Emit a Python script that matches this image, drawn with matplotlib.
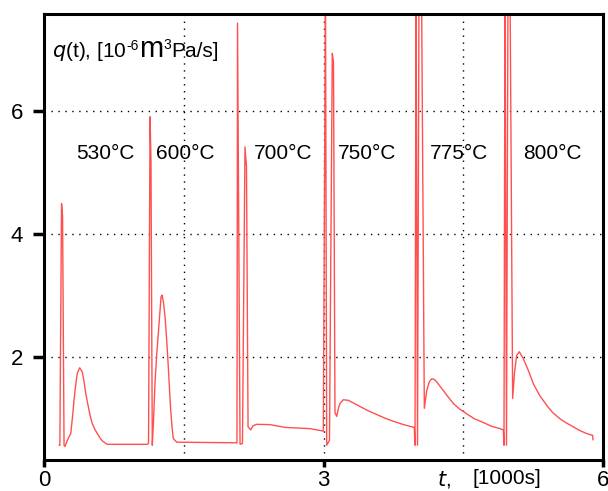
import matplotlib
matplotlib.use("Agg")
import matplotlib.pyplot as plt
from matplotlib.ticker import FixedLocator

plt.rcParams['font.family'] = ['Liberation Sans', 'DejaVu Sans']

# flow q(t), t in 1000 s, q in 1e-6 m3 Pa/s
t = [0.164, 0.170, 0.188, 0.199, 0.215, 0.225, 0.250, 0.287, 0.305, 0.322,
     0.340, 0.357, 0.383, 0.411, 0.430, 0.448, 0.466, 0.483, 0.500, 0.518,
     0.545, 0.572, 0.600, 0.626, 0.679, 1.109,
     1.122, 1.138, 1.148, 1.162, 1.175, 1.191, 1.210, 1.227, 1.256, 1.266,
     1.282, 1.299, 1.318, 1.334, 1.348, 1.360, 1.375, 1.388, 1.424, 2.071,
     2.077, 2.104, 2.130, 2.157, 2.173, 2.190, 2.218, 2.246, 2.283, 2.426,
     2.587, 2.855, 2.998,
     3.021, 3.034, 3.064, 3.094, 3.107, 3.123, 3.142, 3.160, 3.177, 3.212,
     3.266, 3.330, 3.392, 3.480, 3.571, 3.660, 3.749, 3.850, 3.947, 3.974,
     3.982, 3.993, 4.009, 4.025, 4.052, 4.082, 4.108, 4.135, 4.161, 4.190,
     4.215, 4.250, 4.286, 4.340, 4.393, 4.460, 4.537, 4.620, 4.715, 4.800,
     4.894, 4.930,
     4.937, 4.948, 4.964, 4.980, 5.002, 5.030, 5.050, 5.073, 5.101, 5.144,
     5.200, 5.252, 5.320, 5.395, 5.460, 5.538, 5.610, 5.681, 5.750, 5.825,
     5.889, 5.892]
q = [0.57, 0.57, 4.50, 4.30, 0.57, 0.55, 0.65, 0.76, 1.02, 1.30,
     1.55, 1.74, 1.83, 1.76, 1.60, 1.41, 1.27, 1.14, 1.02, 0.92,
     0.83, 0.76, 0.69, 0.64, 0.585, 0.585,
     0.60, 5.91, 5.20, 0.57, 0.95, 1.58, 2.05, 2.39, 2.98, 3.01,
     2.90, 2.66, 2.25, 1.84, 1.45, 1.14, 0.85, 0.68, 0.62, 0.61,
     7.43, 0.585, 0.60, 5.42, 5.10, 0.87, 0.82, 0.89, 0.91, 0.905,
     0.86, 0.84, 0.80,
     8.0, 0.57, 0.65, 6.94, 6.80, 1.10, 1.04, 1.17, 1.25, 1.31,
     1.30, 1.25, 1.20, 1.13, 1.07, 1.01, 0.96, 0.91, 0.87, 0.86,
     0.57, 8.0, 0.57, 8.0, 8.0, 1.17, 1.46, 1.60, 1.65, 1.64,
     1.60, 1.53, 1.46, 1.35, 1.25, 1.16, 1.08, 1.00, 0.94, 0.88,
     0.84, 0.82,
     0.57, 8.0, 0.57, 8.0, 8.0, 1.33, 1.75, 2.03, 2.09, 1.98,
     1.78, 1.57, 1.38, 1.22, 1.10, 1.00, 0.93, 0.87, 0.81, 0.76,
     0.73, 0.66]

temps = ['530°C', '600°C', '700°C', '750°C', '775°C', '800°C']
temp_x = [0.655, 1.513, 2.565, 3.467, 4.454, 5.452]
temp_y = 5.32

fig = plt.figure(figsize=(6.08, 4.91), dpi=100)
ax = fig.add_axes([0.0724, 0.0631, 0.9194, 0.9084])

ax.plot(t, q, color='#ff5050', lw=1.0)

ax.set_xlim(0, 6)
ax.set_ylim(0.33, 7.58)

ax.xaxis.set_major_locator(FixedLocator([0, 3, 6]))
ax.xaxis.set_minor_locator(FixedLocator([1.5, 4.5]))
ax.yaxis.set_major_locator(FixedLocator([2, 4, 6]))

grid_kw = dict(color='black', linestyle=(0, (1, 4)), linewidth=1.0)
ax.grid(True, which='major', **grid_kw)
ax.xaxis.grid(True, which='minor', **grid_kw)
ax.tick_params(axis='x', which='minor', length=0)

for s in ax.spines.values():
    s.set_linewidth(2.2)

ax.tick_params(axis='y', which='major', direction='out', length=8, width=2.5,
               labelsize=16, pad=7)
ax.tick_params(axis='x', which='major', direction='out', length=5, width=2.5,
               labelsize=16, pad=2)

for lab, x in zip(temps, temp_x):
    ax.text(x, temp_y, lab, fontsize=15, ha='center', va='center')

# y label built from pieces so the "m" can be bigger, like the original
parts = [(r'$q$(t), [10', 15, 0), (r'-6', 10, 7), ('m', 21, 0),
         ('3', 10, 8), ('Pa/s]', 15, 0)]
fig.canvas.draw()
r = fig.canvas.get_renderer()
x0 = 52
base = 491 - 57
for s, fs, dy in parts:
    tx = fig.text(x0 / 608, (base + dy) / 491, s, fontsize=fs,
                  ha='left', va='baseline')
    x0 = tx.get_window_extent(r).x1

fig.text(437 / 608, 1 - 479 / 491, r'$t$,', fontsize=15, ha='left', va='center')
fig.text(472 / 608, 1 - 479 / 491, '[1000s]', fontsize=15, ha='left', va='center')

fig.savefig('out.png', dpi=100)
